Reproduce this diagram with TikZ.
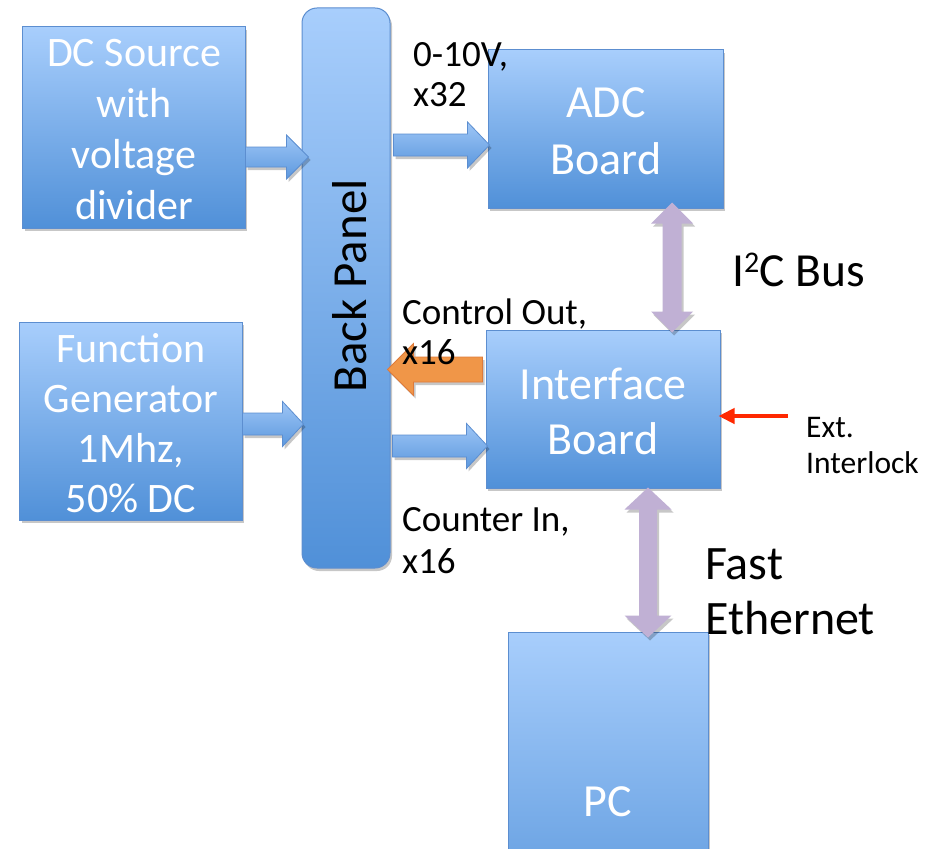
\documentclass[tikz,border=0pt]{standalone}
\usepackage{fontspec}
\setmainfont{Carlito}
\usetikzlibrary{calc,shadows,arrows.meta}
\definecolor{boxtop}{RGB}{168,206,252}
\definecolor{boxbot}{RGB}{80,144,216}
\definecolor{boxline}{RGB}{92,142,208}
\definecolor{arrtop}{RGB}{158,198,246}
\definecolor{arrbot}{RGB}{92,152,222}
\definecolor{ctrl}{RGB}{240,150,72}
\definecolor{ctrlline}{RGB}{222,122,58}
\definecolor{bus}{RGB}{192,176,212}
\definecolor{intl}{RGB}{255,40,0}
\tikzset{
  softshadow/.style={drop shadow={shadow xshift=2bp, shadow yshift=-3bp, opacity=0.22, fill=black}},
  box/.style={draw=boxline, line width=1bp, top color=boxtop, bottom color=boxbot,
    text=white, align=center, inner sep=0pt, softshadow},
  boxtext/.style={text=white, align=center, inner sep=0pt},
  blockarr/.style={draw=boxline, line width=0.8bp, top color=arrtop, bottom color=arrbot, softshadow},
  ctrlarr/.style={draw=ctrlline, line width=0.8bp, fill=ctrl, softshadow},
  busarr/.style={fill=bus, softshadow},
  lbl/.style={align=left, inner sep=0pt, text=black},
}
% horizontal block arrow: style, tail, tip, shaft half, head half, signed head length
\newcommand\harrow[6]{%
  \path[#1] let \p1=(#2), \p2=(#3) in
    ({\x1},{\y2+#4}) -- ({\x2-#6},{\y2+#4}) -- ({\x2-#6},{\y2+#5}) -- ({\x2},{\y2})
    -- ({\x2-#6},{\y2-#5}) -- ({\x2-#6},{\y2-#4}) -- ({\x1},{\y2-#4}) -- cycle;}
% vertical double block arrow: style, top tip, bottom tip, shaft half, head half, head length
\newcommand\vdarrow[6]{%
  \path[#1] let \p1=(#2), \p2=(#3) in
    ({\x1},{\y1}) -- ({\x1+#5},{\y1-#6}) -- ({\x1+#4},{\y1-#6}) -- ({\x1+#4},{\y2+#6})
    -- ({\x1+#5},{\y2+#6}) -- ({\x1},{\y2}) -- ({\x1-#5},{\y2+#6}) -- ({\x1-#4},{\y2+#6})
    -- ({\x1-#4},{\y1-#6}) -- ({\x1-#5},{\y1-#6}) -- cycle;}
\begin{document}
\begin{tikzpicture}[x=1bp,y=-1bp]
\clip (0,0) rectangle (934,849);
\fill[white] (0,0) rectangle (934,849);

% boxes
\node[box, minimum width=222bp, minimum height=201bp] (dc) at (134,127.5) {};
\node[boxtext, font=\fontsize{42bp}{51bp}\selectfont] (dct) at (134,130)
  {DC Source\\with\\voltage\\divider};
\node[box, minimum width=222bp, minimum height=198bp] (fg) at (131,421) {};
\node[boxtext, font=\fontsize{42bp}{50bp}\selectfont] (fgt) at (131,423.5)
  {Function\\Generator\\1Mhz,\\50\% DC};
\node[box, rounded corners=15bp, minimum width=88bp, minimum height=560bp] (bp) at (346,288) {};
\node[text=black, rotate=90, inner sep=0pt, font=\fontsize{49bp}{55bp}\selectfont] (bpt) at (350,286) {Back Panel};
\node[box, minimum width=235bp, minimum height=158bp] (adc) at (605.5,129) {};
\node[boxtext, font=\fontsize{46bp}{57bp}\selectfont] (adct) at (606,131.5) {ADC\\Board};
\node[box, minimum width=234bp, minimum height=158bp] (ifb) at (603,409) {};
\node[boxtext, font=\fontsize{46bp}{55bp}\selectfont] (ifbt) at (603,411.5) {Interface\\Board};
\node[box, minimum width=200bp, minimum height=340bp,
  font=\fontsize{46bp}{55bp}\selectfont] (pc) at (608,802) {PC};

% reference rows
\coordinate (ydc) at (0,157);
\coordinate (yadc) at (0,145);
\coordinate (yfg) at (0,424);
\coordinate (yifb) at (0,446);
\coordinate (yctl) at (0,369.5);
\coordinate (xi2c) at (672,0);
\coordinate (xeth) at (648,0);
\coordinate (yint) at (0,416);

% arrow end points
\coordinate (a1s) at (dc.east |- ydc);
\coordinate (a1t) at ($(bp.west |- ydc)+(7,0)$);
\coordinate (a2s) at ($(bp.east |- yadc)+(3,0)$);
\coordinate (a2t) at ($(adc.west |- yadc)+(2,0)$);
\coordinate (a3s) at (fg.east |- yfg);
\coordinate (a3t) at ($(bp.west |- yfg)+(2,0)$);
\coordinate (a4s) at ($(bp.east |- yifb)+(2,0)$);
\coordinate (a4t) at ($(ifb.west |- yifb)+(2,0)$);
\coordinate (a5s) at ($(ifb.west |- yctl)+(-3,0)$);
\coordinate (a5t) at ($(bp.east |- yctl)+(-3,0)$);
\coordinate (b1s) at ($(adc.south -| xi2c)+(0,-6)$);
\coordinate (b1t) at ($(ifb.north -| xi2c)+(0,3)$);
\coordinate (b2s) at ($(ifb.south -| xeth)+(0,-1)$);
\coordinate (b2t) at ($(pc.north -| xeth)+(0,6)$);
\coordinate (intail) at ($(ifb.east |- yint)+(67,0)$);
\coordinate (intip) at ($(ifb.east |- yint)+(-2,0)$);

% block arrows
\harrow{blockarr}{a1s}{a1t}{10bp}{22bp}{22bp}
\harrow{blockarr}{a2s}{a2t}{11bp}{23bp}{22bp}
\harrow{blockarr}{a3s}{a3t}{11bp}{22.5bp}{21bp}
\harrow{blockarr}{a4s}{a4t}{11bp}{22.5bp}{21bp}
\harrow{ctrlarr}{a5s}{a5t}{12.5bp}{26bp}{-26bp}

% bus arrows
\vdarrow{busarr}{b1s}{b1t}{9.5bp}{21bp}{21bp}
\vdarrow{busarr}{b2s}{b2t}{9bp}{23.5bp}{22bp}

% interlock arrow
\draw[intl, line width=4bp, -{Triangle[length=16bp,width=15bp]}] (intail) -- (intip);

% labels
\node[lbl, anchor=west, font=\fontsize{37bp}{40bp}\selectfont] (l1) at (413,75) {0-10V,\\x32};
\node[lbl, anchor=west, font=\fontsize{37bp}{40bp}\selectfont] (l2) at (402,332) {Control Out,\\x16};
\node[lbl, anchor=west, font=\fontsize{37bp}{42bp}\selectfont] (l3) at (402,541) {Counter In,\\x16};
\node[lbl, anchor=west, font=\fontsize{47.5bp}{55bp}\selectfont] (l4) at (732,270)
  {I\raisebox{0.3em}{\fontsize{30bp}{30bp}\selectfont 2}C Bus};
\node[lbl, anchor=west, font=\fontsize{48bp}{55bp}\selectfont] (l5) at (705,592) {Fast\\Ethernet};
\node[lbl, anchor=west, font=\fontsize{31.5bp}{36bp}\selectfont] (l6) at (806,446) {Ext.\\Interlock};
\end{tikzpicture}
\end{document}
